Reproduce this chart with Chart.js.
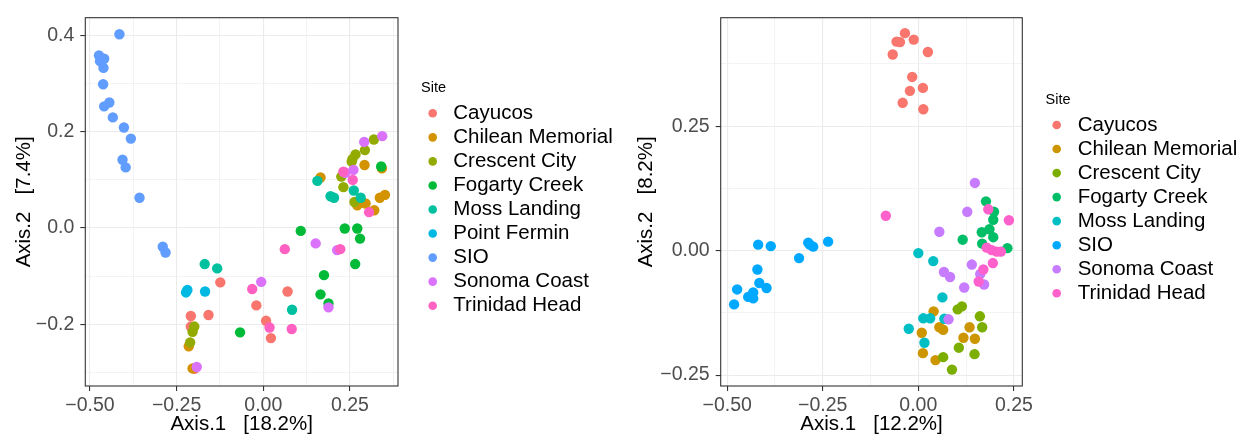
<!DOCTYPE html>
<html>
<head>
<meta charset="utf-8">
<script src="https://cdn.jsdelivr.net/npm/chart.js@4"></script>
<style>
  html, body { margin: 0; padding: 0; background: #ffffff; }
  #wrap { position: relative; width: 1249px; height: 440px; }
  canvas { position: absolute; top: 0; }
  #pcoaA { left: 0; }
  #pcoaB { left: 620px; }
</style>
</head>
<body>
<div id="wrap">
  <canvas id="pcoaA" width="620" height="440"></canvas>
  <canvas id="pcoaB" width="629" height="440"></canvas>
</div>
<script>
// ---------- Ordination A (9 sites) : [Axis.1, Axis.2] per sample ----------
const sitesA = ['Cayucos', 'Chilean Memorial', 'Crescent City', 'Fogarty Creek', 'Moss Landing',
                'Point Fermin', 'SIO', 'Sonoma Coast', 'Trinidad Head'];

const a_cayucos = [[-0.124, -0.113], [-0.209, -0.183], [-0.158, -0.181], [-0.209, -0.205], [-0.199, -0.293],
                   [-0.020, -0.161], [0.008, -0.193], [0.022, -0.229], [0.070, -0.132]];
const a_chilean = [[0.292, 0.131], [0.342, 0.124], [0.165, 0.105], [0.336, 0.063], [0.351, 0.069],
                   [0.271, 0.047], [0.295, 0.051], [0.320, 0.037], [-0.215, -0.246], [-0.204, -0.292]];
const a_crescent = [[0.319, 0.184], [0.293, 0.162], [0.266, 0.153], [0.257, 0.143], [0.255, 0.138],
                    [0.225, 0.107], [0.231, 0.085], [0.263, 0.054], [-0.199, -0.205], [-0.204, -0.216], [-0.211, -0.238]];
const a_fogarty = [[0.340, 0.128], [0.108, -0.006], [0.235, -0.001], [0.271, -0.001], [0.279, -0.022],
                   [0.265, -0.075], [0.175, -0.098], [0.165, -0.138], [0.188, -0.157], [-0.067, -0.217]];
const a_moss = [[0.156, 0.098], [0.194, 0.066], [0.204, 0.063], [0.261, 0.078], [0.281, 0.063],
                [-0.169, -0.075], [-0.133, -0.084], [0.083, -0.170]];
const a_fermin = [[-0.219, -0.129], [-0.223, -0.134], [-0.168, -0.132]];
const a_sio = [[-0.415, 0.403], [-0.474, 0.359], [-0.459, 0.352], [-0.471, 0.347], [-0.461, 0.333],
               [-0.462, 0.299], [-0.444, 0.261], [-0.459, 0.253], [-0.434, 0.230], [-0.402, 0.209],
               [-0.382, 0.186], [-0.406, 0.142], [-0.397, 0.126], [-0.357, 0.063], [-0.290, -0.039], [-0.282, -0.051]];
const a_sonoma = [[0.343, 0.191], [0.291, 0.179], [0.260, 0.121], [0.237, 0.115], [0.151, -0.032],
                  [0.213, -0.046], [-0.006, -0.112], [0.188, -0.165], [-0.192, -0.289]];
const a_trinidad = [[0.231, 0.117], [0.258, 0.100], [0.305, 0.033], [0.222, -0.044], [0.062, -0.044],
                    [-0.032, -0.127], [0.018, -0.207], [0.082, -0.210]];
const pointsA = [a_cayucos, a_chilean, a_crescent, a_fogarty, a_moss, a_fermin, a_sio, a_sonoma, a_trinidad];

// ---------- Ordination B (8 sites) ----------
const sitesB = ['Cayucos', 'Chilean Memorial', 'Crescent City', 'Fogarty Creek', 'Moss Landing',
                'SIO', 'Sonoma Coast', 'Trinidad Head'];

const b_cayucos = [[-0.035, 0.437], [-0.057, 0.420], [-0.048, 0.419], [-0.012, 0.424], [-0.067, 0.394],
                   [0.025, 0.399], [-0.016, 0.349], [0.012, 0.327], [-0.022, 0.321], [-0.041, 0.297], [0.013, 0.284]];
const b_chilean = [[0.040, -0.122], [0.055, -0.154], [0.065, -0.159], [0.009, -0.165], [0.134, -0.154],
                   [0.118, -0.175], [0.148, -0.177], [0.012, -0.206], [0.045, -0.220]];
const b_crescent = [[0.103, -0.118], [0.114, -0.112], [0.161, -0.132], [0.167, -0.154], [0.106, -0.195],
                    [0.147, -0.208], [0.065, -0.214], [0.088, -0.239]];
const b_fogarty = [[0.177, 0.099], [0.198, 0.078], [0.196, 0.062], [0.186, 0.043], [0.166, 0.037],
                   [0.196, 0.027], [0.116, 0.022], [0.167, 0.014], [0.233, 0.005]];
const b_moss = [[0.000, -0.005], [0.039, -0.021], [0.063, -0.094], [0.013, -0.136], [0.031, -0.136],
                [0.068, -0.137], [-0.025, -0.157], [0.016, -0.185]];
const b_sio = [[-0.419, 0.012], [-0.386, 0.009], [-0.288, 0.016], [-0.284, 0.012], [-0.275, 0.008],
               [-0.236, 0.018], [-0.312, -0.015], [-0.421, -0.038], [-0.416, -0.065], [-0.397, -0.075],
               [-0.474, -0.078], [-0.432, -0.084], [-0.445, -0.093], [-0.432, -0.096], [-0.482, -0.108]];
const b_sonoma = [[0.148, 0.136], [0.128, 0.078], [0.055, 0.038], [0.140, -0.028], [0.067, -0.043],
                  [0.083, -0.053], [0.162, -0.047], [0.172, -0.068], [0.120, -0.074], [0.079, -0.138]];
const b_trinidad = [[-0.085, 0.070], [0.183, 0.083], [0.237, 0.061], [0.179, 0.006], [0.192, 0.001],
                    [0.205, -0.002], [0.216, -0.002], [0.195, -0.025], [0.170, -0.038], [0.158, -0.062]];
const pointsB = [b_cayucos, b_chilean, b_crescent, b_fogarty, b_moss, b_sio, b_sonoma, b_trinidad];

// ---------- Axis ticks (major ones carry labels, minor ones only grid lines) ----------
const xMajor = [-0.5, -0.25, 0, 0.25];
const xMajorLabels = ['\u22120.50', '\u22120.25', '0.00', '0.25'];
const xMinorA = [-0.375, -0.125, 0.125, 0.375];
const xMinorB = [-0.375, -0.125, 0.125];

const yMajorA = [-0.2, 0, 0.2, 0.4];
const yMajorLabelsA = ['\u22120.2', '0.0', '0.2', '0.4'];
const yMinorA = [-0.3, -0.1, 0.1, 0.3];

const yMajorB = [-0.25, 0, 0.25];
const yMajorLabelsB = ['\u22120.25', '0.00', '0.25'];
const yMinorB = [-0.125, 0.125, 0.375];

const axisTitlesA = ['Axis.1   [18.2%]', 'Axis.2   [7.4%]'];
const axisTitlesB = ['Axis.1   [12.2%]', 'Axis.2   [8.2%]'];

// ggplot2 default hue palettes for 9 and 8 levels
const hues9 = ['#F8766D', '#D39200', '#93AA00', '#00BA38', '#00C19F', '#00B9E3', '#619CFF', '#DB72FB', '#FF61C3'];
const hues8 = ['#F8766D', '#CD9600', '#7CAE00', '#00BE67', '#00BFC4', '#00A9FF', '#C77CFF', '#FF61CC'];

const FONT = '"Liberation Sans", Arial, Helvetica, sans-serif';

const near = (a, b) => Math.abs(a - b) < 1e-9;
const isIn = (v, list) => list.some(m => near(m, v));

// legend drawn beside the panel, one row per dataset
const siteLegend = {
  id: 'siteLegend',
  afterDraw(chart, args, o) {
    const ctx = chart.ctx;
    ctx.save();
    ctx.textAlign = 'left';
    ctx.textBaseline = 'middle';
    ctx.fillStyle = '#000000';
    ctx.font = '14.5px ' + FONT;
    ctx.fillText(o.title, o.titleX, o.titleY);
    chart.data.datasets.forEach((ds, i) => {
      const y = o.firstY + i * o.rowGap;
      ctx.beginPath();
      ctx.arc(o.dotX, y, o.dotR, 0, Math.PI * 2);
      ctx.fillStyle = ds.backgroundColor;
      ctx.fill();
      ctx.fillStyle = '#000000';
      ctx.font = '20.5px ' + FONT;
      ctx.fillText(ds.label, o.labelX, y);
    });
    ctx.restore();
  }
};

// panel border drawn over the points
const panelBorder = {
  id: 'panelBorder',
  afterDatasetsDraw(chart) {
    const { ctx, chartArea: a } = chart;
    ctx.save();
    ctx.strokeStyle = '#333333';
    ctx.lineWidth = 1.1;
    ctx.strokeRect(a.left, a.top, a.right - a.left, a.bottom - a.top);
    ctx.restore();
  }
};

function buildPanel(canvasId, cfg) {
  const n = cfg.sites.length;
  const datasets = cfg.sites.map((name, i) => ({
    label: name,
    data: cfg.points[i].map(([x, y]) => ({ x, y })),
    backgroundColor: cfg.colors[i],
    borderWidth: 0,
    pointRadius: 5.2,
    pointHoverRadius: 5.2,
    order: n - i
  }));

  const gridStyle = (majors) => ({
    color: '#EBEBEB',
    lineWidth: (c) => (c.tick && isIn(c.tick.value, majors)) ? 1.1 : 0.6,
    tickLength: 5,
    tickWidth: 1.1,
    tickColor: (c) => (c.tick && isIn(c.tick.value, majors)) ? '#333333' : 'rgba(0,0,0,0)'
  });

  return new Chart(document.getElementById(canvasId), {
    type: 'scatter',
    data: { datasets },
    plugins: [panelBorder, siteLegend],
    options: {
      responsive: false,
      animation: false,
      events: [],
      layout: { padding: { left: 0, top: 11, right: cfg.padRight, bottom: 0 } },
      plugins: {
        legend: { display: false },
        tooltip: { enabled: false },
        siteLegend: cfg.legend
      },
      scales: {
        x: {
          type: 'linear',
          min: cfg.xRange[0],
          max: cfg.xRange[1],
          afterBuildTicks: (s) => { s.ticks = xMajor.concat(cfg.xMinor).sort((a, b) => a - b).map(v => ({ value: v })); },
          afterFit: (s) => { s.height = 54; },
          border: { display: false },
          grid: gridStyle(xMajor),
          ticks: {
            autoSkip: false, maxRotation: 0, minRotation: 0, padding: 3,
            color: '#4D4D4D', font: { family: FONT, size: 19.5 },
            callback: (v) => { const k = xMajor.findIndex(m => near(m, v)); return k >= 0 ? xMajorLabels[k] : ''; }
          },
          title: {
            display: true, text: cfg.titles[0], color: '#000000',
            font: { family: FONT, size: 20.5 }, padding: { top: 0, bottom: 3 }
          }
        },
        y: {
          type: 'linear',
          min: cfg.yRange[0],
          max: cfg.yRange[1],
          afterBuildTicks: (s) => { s.ticks = cfg.yMajor.concat(cfg.yMinor).sort((a, b) => a - b).map(v => ({ value: v })); },
          afterFit: (s) => { s.width = cfg.yWidth; },
          border: { display: false },
          grid: gridStyle(cfg.yMajor),
          ticks: {
            autoSkip: false, padding: 6,
            color: '#4D4D4D', font: { family: FONT, size: 19.5 },
            callback: (v) => { const k = cfg.yMajor.findIndex(m => near(m, v)); return k >= 0 ? cfg.yLabels[k] : ''; }
          },
          title: {
            display: true, text: cfg.titles[1], color: '#000000',
            font: { family: FONT, size: 20.5 }, padding: { top: cfg.yTitlePad, bottom: 0 }
          }
        }
      }
    }
  });
}

buildPanel('pcoaA', {
  sites: sitesA, points: pointsA, colors: hues9, titles: axisTitlesA,
  xRange: [-0.5134, 0.3885], yRange: [-0.3286, 0.4374],
  xMinor: xMinorA, yMajor: yMajorA, yMinor: yMinorA, yLabels: yMajorLabelsA,
  yWidth: 85.3, padRight: 222, yTitlePad: 12,
  legend: { title: 'Site', titleX: 421, titleY: 88, dotX: 432.7, dotR: 4.3, labelX: 453.3, firstY: 113.3, rowGap: 24.05 }
});

buildPanel('pcoaB', {
  sites: sitesB, points: pointsB, colors: hues8, titles: axisTitlesB,
  xRange: [-0.517, 0.272], yRange: [-0.272, 0.468],
  xMinor: xMinorB, yMajor: yMajorB, yMinor: yMinorB, yLabels: yMajorLabelsB,
  yWidth: 100.7, padRight: 226.7, yTitlePad: 14,
  legend: { title: 'Site', titleX: 425.5, titleY: 100, dotX: 436.7, dotR: 4.3, labelX: 457.7, firstY: 125, rowGap: 24.04 }
});
</script>
</body>
</html>
